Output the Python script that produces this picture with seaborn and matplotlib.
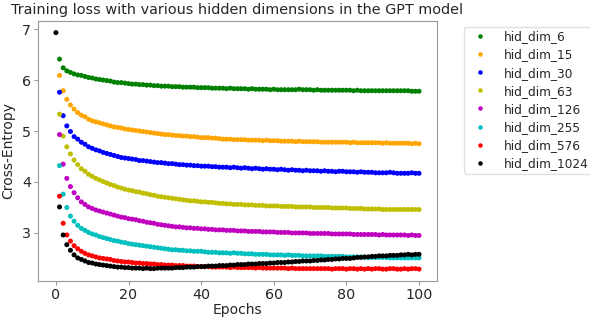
import numpy as np
import pandas as pd
import matplotlib
matplotlib.use("Agg")
import matplotlib.pyplot as plt
import seaborn as sns

# Cross-entropy per epoch for each hidden dimension (epochs 1..100)
loss_6 = [
    6.41, 6.24, 6.18, 6.15, 6.12, 6.10, 6.09, 6.07, 6.05, 6.04,
    6.02, 6.01, 6.00, 5.99, 5.98, 5.96, 5.95, 5.95, 5.94, 5.93,
    5.92, 5.92, 5.91, 5.91, 5.90, 5.90, 5.89, 5.89, 5.88, 5.88,
    5.88, 5.87, 5.87, 5.87, 5.86, 5.86, 5.86, 5.86, 5.85, 5.85,
    5.85, 5.85, 5.84, 5.84, 5.84, 5.84, 5.83, 5.84, 5.83, 5.83,
    5.83, 5.83, 5.82, 5.83, 5.82, 5.82, 5.82, 5.82, 5.81, 5.82,
    5.81, 5.81, 5.81, 5.81, 5.81, 5.81, 5.82, 5.81, 5.81, 5.81,
    5.80, 5.81, 5.80, 5.80, 5.80, 5.80, 5.80, 5.80, 5.80, 5.80,
    5.80, 5.79, 5.80, 5.79, 5.79, 5.79, 5.79, 5.79, 5.79, 5.79,
    5.79, 5.79, 5.79, 5.79, 5.79, 5.79, 5.79, 5.78, 5.78, 5.78,
]
loss_15 = [
    6.09, 5.79, 5.62, 5.51, 5.43, 5.36, 5.31, 5.28, 5.23, 5.20,
    5.18, 5.16, 5.14, 5.12, 5.10, 5.08, 5.07, 5.06, 5.04, 5.03,
    5.02, 5.01, 5.00, 4.99, 4.98, 4.97, 4.96, 4.95, 4.94, 4.93,
    4.93, 4.92, 4.91, 4.91, 4.90, 4.90, 4.89, 4.89, 4.88, 4.87,
    4.87, 4.87, 4.86, 4.86, 4.85, 4.84, 4.84, 4.84, 4.83, 4.83,
    4.83, 4.83, 4.82, 4.82, 4.82, 4.82, 4.81, 4.82, 4.81, 4.81,
    4.81, 4.80, 4.80, 4.80, 4.80, 4.79, 4.80, 4.79, 4.79, 4.79,
    4.79, 4.79, 4.78, 4.78, 4.78, 4.78, 4.78, 4.78, 4.78, 4.78,
    4.77, 4.78, 4.77, 4.77, 4.77, 4.77, 4.77, 4.77, 4.77, 4.76,
    4.77, 4.76, 4.76, 4.76, 4.76, 4.76, 4.76, 4.75, 4.76, 4.75,
]
loss_30 = [
    5.76, 5.30, 5.10, 4.99, 4.89, 4.84, 4.78, 4.74, 4.69, 4.66,
    4.63, 4.61, 4.58, 4.56, 4.54, 4.52, 4.50, 4.48, 4.47, 4.46,
    4.45, 4.44, 4.42, 4.42, 4.41, 4.40, 4.39, 4.38, 4.38, 4.37,
    4.36, 4.36, 4.35, 4.34, 4.34, 4.33, 4.33, 4.32, 4.32, 4.31,
    4.31, 4.31, 4.30, 4.30, 4.29, 4.29, 4.29, 4.28, 4.29, 4.28,
    4.27, 4.28, 4.27, 4.26, 4.27, 4.26, 4.25, 4.26, 4.25, 4.25,
    4.24, 4.25, 4.24, 4.23, 4.24, 4.23, 4.23, 4.22, 4.23, 4.22,
    4.22, 4.22, 4.21, 4.22, 4.21, 4.21, 4.20, 4.21, 4.21, 4.20,
    4.20, 4.20, 4.19, 4.20, 4.19, 4.19, 4.19, 4.18, 4.18, 4.18,
    4.18, 4.19, 4.18, 4.17, 4.17, 4.17, 4.17, 4.18, 4.17, 4.17,
]
loss_63 = [
    5.33, 4.90, 4.69, 4.55, 4.43, 4.34, 4.26, 4.21, 4.15, 4.11,
    4.07, 4.04, 4.01, 3.98, 3.95, 3.93, 3.90, 3.88, 3.86, 3.84,
    3.83, 3.81, 3.80, 3.78, 3.77, 3.75, 3.74, 3.72, 3.71, 3.70,
    3.69, 3.68, 3.67, 3.66, 3.65, 3.64, 3.63, 3.63, 3.62, 3.61,
    3.61, 3.60, 3.60, 3.59, 3.58, 3.58, 3.57, 3.57, 3.56, 3.56,
    3.56, 3.55, 3.55, 3.55, 3.54, 3.54, 3.54, 3.53, 3.53, 3.53,
    3.53, 3.52, 3.52, 3.52, 3.52, 3.51, 3.51, 3.51, 3.51, 3.51,
    3.50, 3.50, 3.50, 3.50, 3.50, 3.49, 3.49, 3.49, 3.49, 3.49,
    3.48, 3.48, 3.48, 3.48, 3.47, 3.47, 3.47, 3.47, 3.47, 3.46,
    3.46, 3.46, 3.46, 3.46, 3.46, 3.46, 3.46, 3.46, 3.46, 3.46,
]
loss_126 = [
    4.93, 4.35, 4.07, 3.91, 3.79, 3.69, 3.61, 3.56, 3.51, 3.48,
    3.45, 3.43, 3.41, 3.39, 3.37, 3.35, 3.33, 3.31, 3.30, 3.28,
    3.27, 3.26, 3.24, 3.23, 3.21, 3.20, 3.19, 3.17, 3.16, 3.15,
    3.14, 3.13, 3.12, 3.12, 3.11, 3.10, 3.10, 3.09, 3.09, 3.08,
    3.08, 3.07, 3.07, 3.06, 3.06, 3.06, 3.05, 3.05, 3.05, 3.04,
    3.04, 3.04, 3.03, 3.03, 3.03, 3.03, 3.02, 3.02, 3.02, 3.02,
    3.01, 3.01, 3.01, 3.01, 3.00, 3.00, 3.00, 3.00, 3.00, 2.99,
    2.99, 2.99, 2.99, 2.99, 2.99, 2.98, 2.98, 2.98, 2.98, 2.98,
    2.98, 2.97, 2.97, 2.97, 2.97, 2.97, 2.97, 2.97, 2.96, 2.97,
    2.96, 2.96, 2.96, 2.96, 2.96, 2.96, 2.95, 2.96, 2.95, 2.95,
]
loss_255 = [
    4.32, 3.76, 3.50, 3.33, 3.23, 3.15, 3.09, 3.05, 3.01, 2.98,
    2.96, 2.93, 2.91, 2.89, 2.87, 2.85, 2.84, 2.82, 2.81, 2.79,
    2.78, 2.77, 2.76, 2.75, 2.74, 2.73, 2.72, 2.71, 2.70, 2.69,
    2.68, 2.67, 2.67, 2.66, 2.66, 2.65, 2.65, 2.64, 2.64, 2.64,
    2.63, 2.62, 2.62, 2.62, 2.61, 2.61, 2.61, 2.60, 2.61, 2.60,
    2.60, 2.59, 2.59, 2.59, 2.58, 2.58, 2.58, 2.58, 2.57, 2.57,
    2.57, 2.57, 2.56, 2.57, 2.56, 2.56, 2.56, 2.55, 2.55, 2.55,
    2.55, 2.55, 2.55, 2.54, 2.54, 2.54, 2.54, 2.54, 2.54, 2.53,
    2.53, 2.53, 2.53, 2.53, 2.52, 2.52, 2.52, 2.52, 2.52, 2.52,
    2.52, 2.51, 2.51, 2.51, 2.51, 2.51, 2.51, 2.51, 2.51, 2.51,
]
loss_576 = [
    3.72, 3.19, 2.96, 2.84, 2.75, 2.69, 2.64, 2.60, 2.57, 2.55,
    2.53, 2.51, 2.50, 2.49, 2.48, 2.46, 2.45, 2.44, 2.43, 2.43,
    2.42, 2.41, 2.41, 2.40, 2.40, 2.39, 2.39, 2.38, 2.38, 2.37,
    2.37, 2.37, 2.36, 2.36, 2.36, 2.35, 2.35, 2.35, 2.34, 2.34,
    2.34, 2.34, 2.33, 2.33, 2.33, 2.33, 2.33, 2.32, 2.33, 2.32,
    2.32, 2.32, 2.32, 2.32, 2.31, 2.32, 2.31, 2.31, 2.31, 2.31,
    2.31, 2.31, 2.31, 2.30, 2.31, 2.30, 2.30, 2.30, 2.30, 2.30,
    2.30, 2.30, 2.30, 2.30, 2.30, 2.29, 2.30, 2.30, 2.30, 2.29,
    2.30, 2.30, 2.29, 2.30, 2.29, 2.30, 2.29, 2.30, 2.30, 2.29,
    2.29, 2.30, 2.30, 2.29, 2.29, 2.30, 2.29, 2.30, 2.30, 2.29,
]
# hid_dim_1024 also logs the untrained loss at epoch 0 (epochs 0..100)
loss_1024 = [
    6.93,
    3.51, 2.96, 2.77, 2.66, 2.57, 2.51, 2.48, 2.45, 2.42, 2.41,
    2.39, 2.38, 2.37, 2.36, 2.35, 2.34, 2.33, 2.33, 2.32, 2.32,
    2.31, 2.31, 2.31, 2.30, 2.31, 2.30, 2.30, 2.31, 2.31, 2.31,
    2.31, 2.31, 2.32, 2.32, 2.32, 2.33, 2.33, 2.33, 2.34, 2.34,
    2.34, 2.35, 2.35, 2.35, 2.36, 2.36, 2.36, 2.37, 2.37, 2.38,
    2.38, 2.38, 2.39, 2.39, 2.39, 2.40, 2.40, 2.40, 2.41, 2.41,
    2.42, 2.42, 2.42, 2.43, 2.43, 2.44, 2.44, 2.45, 2.45, 2.45,
    2.46, 2.46, 2.47, 2.47, 2.48, 2.48, 2.49, 2.49, 2.50, 2.50,
    2.50, 2.51, 2.52, 2.52, 2.53, 2.53, 2.54, 2.54, 2.55, 2.55,
    2.55, 2.56, 2.56, 2.56, 2.57, 2.57, 2.58, 2.57, 2.58, 2.58,
]

series_names = ["hid_dim_6", "hid_dim_15", "hid_dim_30", "hid_dim_63",
                "hid_dim_126", "hid_dim_255", "hid_dim_576", "hid_dim_1024"]
series_losses = [loss_6, loss_15, loss_30, loss_63,
                 loss_126, loss_255, loss_576, loss_1024]
series_colors = ["g", "orange", "b", "y", "m", "c", "r", "k"]

frames = []
for name, losses in zip(series_names, series_losses):
    start = 101 - len(losses)
    epochs = np.arange(start, start + len(losses))
    frames.append(pd.DataFrame({"Epochs": epochs, "Cross-Entropy": losses,
                                "model": name}))
df = pd.concat(frames, ignore_index=True)

sns.set_style("white")
plt.rcParams["font.family"] = ["DejaVu Sans"]
plt.rcParams["axes.edgecolor"] = "0.6"

fig = plt.figure(figsize=(5.9, 3.2), dpi=100)
ax = fig.add_axes([0.064, 0.122, 0.677, 0.813])

sns.scatterplot(data=df, x="Epochs", y="Cross-Entropy", hue="model",
                hue_order=series_names, palette=series_colors,
                s=13, linewidth=0, ax=ax)

ax.set_title("Training loss with various hidden dimensions in the GPT model",
             fontsize=10.4, color="0.15", pad=5)
ax.set_xlabel("Epochs", fontsize=10, color="0.15", labelpad=1)
ax.set_ylabel("Cross-Entropy", fontsize=10, color="0.15", labelpad=5)
ax.tick_params(labelsize=10.3, labelcolor="0.15", pad=2,
               bottom=True, left=True, length=3, width=0.8, color="0.6")
ax.set_xticks([0, 20, 40, 60, 80, 100])
ax.set_yticks([3, 4, 5, 6, 7])

handles, labels = ax.get_legend_handles_labels()
ax.legend(handles, labels, loc="upper left", bbox_to_anchor=(1.068, 0.977),
          borderaxespad=0, fontsize=8.7, labelspacing=0.42, handletextpad=0.95,
          borderpad=0.3, frameon=True, edgecolor="0.85", markerscale=0.9)

fig.savefig("out.png", dpi=100)
